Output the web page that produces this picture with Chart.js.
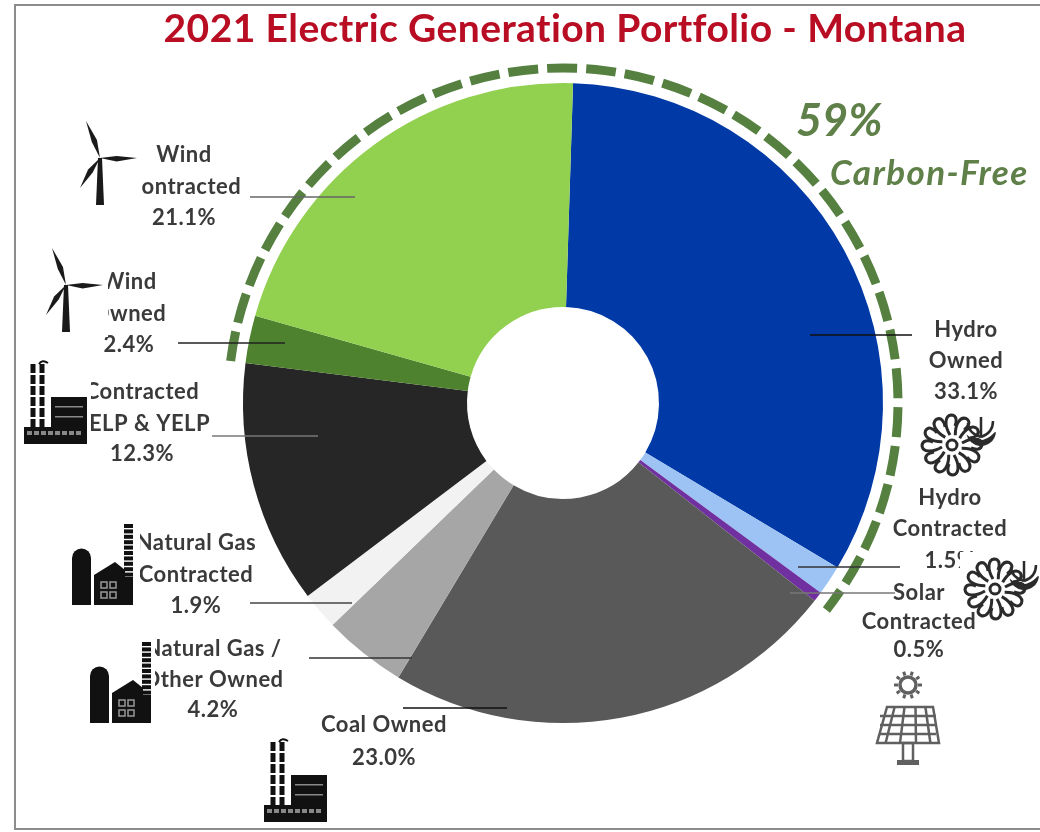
<!DOCTYPE html>
<html>
<head>
<meta charset="utf-8">
<title>2021 Electric Generation Portfolio - Montana</title>
<script src="https://cdn.jsdelivr.net/npm/chart.js@4"></script>
<style>
    html, body { margin: 0; padding: 0; background: #fff; }
    #wrap { position: relative; width: 1040px; height: 832px; }
</style>
</head>
<body>
<div id="wrap"><canvas id="portfolioChart" width="1040" height="832"></canvas></div>
<script>
// Du lieu
const titleText = '2021 Electric Generation Portfolio - Montana';
const categories = ['Hydro Owned', 'Hydro Contracted', 'Solar Contracted', 'Coal Owned', 'Natural Gas / Other Owned',
    'Natural Gas Contracted', 'Contracted CELP & YELP', 'Wind Owned', 'Wind Contracted'];
const shares = [33.1, 1.5, 0.5, 23.0, 4.2, 1.9, 12.3, 2.4, 21.1];
const sliceColors = ['#013aa6', '#9dc3f5', '#7030a0', '#595959', '#a6a6a6', '#f2f2f2', '#262626', '#4e822e', '#92d050'];
const labelLines = [['Hydro', 'Owned'], ['Hydro', 'Contracted'], ['Solar', 'Contracted'], ['Coal Owned'],
    ['Natural Gas /', 'Other Owned'], ['Natural Gas', 'Contracted'], ['Contracted', 'CELP & YELP'], ['Wind', 'Owned'], ['Wind', 'Contracted']];
const carbonFreeLabel = '59%';
const carbonFreeText = 'Carbon-Free';

// Vi tri nhan: x giua, cac dong y, duong dan x1-x2, y, mau
const labelPos = [
    { x: 966, ys: [330, 361, 392], lead: [810, 912, 335], color: '#111' },
    { x: 950, ys: [498, 529, 561], lead: [798, 900, 567], color: '#333' },
    { x: 919, ys: [593, 622, 650], lead: [790, 895, 593], color: '#777' },
    { x: 384, ys: [725, 758], lead: [403, 507, 708], color: '#111' },
    { x: 213, ys: [649, 680, 710], lead: [309, 412, 658], color: '#333' },
    { x: 196, ys: [543, 575, 606], lead: [250, 352, 603], color: '#444' },
    { x: 142, ys: [392, 424, 454], lead: [212, 318, 436], color: '#777' },
    { x: 129, ys: [282, 314, 345], lead: [178, 285, 343], color: '#222' },
    { x: 184, ys: [155, 187, 218], lead: [250, 355, 197], color: '#666' }
];

function drawTurbine(ctx, x, y) {
    ctx.fillStyle = '#1a1a1a';
    [[-14, -37], [37, 0], [-20, 30]].forEach(b => {
        const len = Math.hypot(b[0], b[1]);
        const nx = -b[1] / len;
        const ny = b[0] / len;
        ctx.beginPath();
        ctx.moveTo(x, y);
        ctx.lineTo(x + b[0] * 0.45 + nx * 3.5, y + b[1] * 0.45 + ny * 3.5);
        ctx.lineTo(x + b[0], y + b[1]);
        ctx.lineTo(x + b[0] * 0.45 - nx * 2, y + b[1] * 0.45 - ny * 2);
        ctx.closePath();
        ctx.fill();
    });
    ctx.beginPath();
    ctx.moveTo(x - 2, y);
    ctx.lineTo(x + 2, y);
    ctx.lineTo(x + 4, y + 47);
    ctx.lineTo(x - 4, y + 47);
    ctx.closePath();
    ctx.fill();
}

function drawFactory(ctx, x, y) {
    ctx.fillStyle = '#111';
    [9, 18].forEach(cx => {
        for (let i = 0; i < 6; i++) ctx.fillRect(x + cx - 2.5, y + 4 + i * 11, 5, 9);
    });
    ctx.strokeStyle = '#111';
    ctx.lineWidth = 2;
    ctx.beginPath();
    ctx.moveTo(x + 15, y + 4);
    ctx.quadraticCurveTo(x + 18, y - 1, x + 24, y + 3);
    ctx.stroke();
    ctx.fillRect(x + 27, y + 37, 36, 47);
    ctx.fillRect(x, y + 67, 63, 17);
    ctx.fillStyle = '#888';
    ctx.fillRect(x + 31, y + 46, 28, 1.5);
    ctx.fillRect(x + 31, y + 56, 28, 1.5);
    for (let i = 0; i < 8; i++) ctx.fillRect(x + 3 + i * 7, y + 71, 5, 4);
}

function drawGasPlant(ctx, x, y) {
    ctx.fillStyle = '#111';
    // silo
    ctx.beginPath();
    ctx.moveTo(x, y + 83);
    ctx.lineTo(x, y + 36);
    ctx.arc(x + 9.5, y + 36, 9.5, Math.PI, 0);
    ctx.lineTo(x + 19, y + 83);
    ctx.closePath();
    ctx.fill();
    // nha
    ctx.beginPath();
    ctx.moveTo(x + 22, y + 83);
    ctx.lineTo(x + 22, y + 53);
    ctx.lineTo(x + 43, y + 40);
    ctx.lineTo(x + 53, y + 48);
    ctx.lineTo(x + 53, y + 83);
    ctx.closePath();
    ctx.fill();
    // ong khoi
    for (let i = 0; i < 15; i++) ctx.fillRect(x + 52, y + 2 + i * 5.4, 9, 4);
    ctx.fillRect(x + 50, y + 55, 11, 28);
    ctx.strokeStyle = '#999';
    ctx.lineWidth = 1.5;
    [[29, 60], [38, 60], [29, 70], [38, 70]].forEach(w => ctx.strokeRect(x + w[0], y + w[1], 6, 6));
}

function drawHydro(ctx, x, y) {
    ctx.strokeStyle = '#2b2b2b';
    ctx.lineWidth = 3;
    for (let i = 0; i < 12; i++) {
        const a = i * Math.PI * 2 / 12;
        ctx.save();
        ctx.translate(x, y);
        ctx.rotate(a);
        ctx.beginPath();
        ctx.moveTo(-2, -10);
        ctx.bezierCurveTo(-8, -20, -7, -29, -1, -30);
        ctx.bezierCurveTo(5, -30, 5, -24, 3, -19);
        ctx.stroke();
        ctx.restore();
    }
    ctx.beginPath();
    ctx.arc(x, y, 5, 0, Math.PI * 2);
    ctx.stroke();
    // canh nho ben phai
    ctx.fillStyle = '#2b2b2b';
    ctx.beginPath();
    ctx.arc(x + 29, y - 14, 15, 0.1, 2.9);
    ctx.quadraticCurveTo(x + 29, y + 2, x + 43, y - 13);
    ctx.fill();
    ctx.lineWidth = 2.5;
    [[16, -22], [29, -28], [41, -24]].forEach(p => {
        ctx.beginPath();
        ctx.moveTo(x + p[0], y + p[1]);
        ctx.quadraticCurveTo(x + p[0], y - 12, x + 29, y - 8);
        ctx.stroke();
    });
}

function drawSolar(ctx, x, y) {
    ctx.strokeStyle = '#606060';
    ctx.fillStyle = '#606060';
    // mat troi
    ctx.lineWidth = 3.5;
    ctx.beginPath();
    ctx.arc(x, y, 8, 0, Math.PI * 2);
    ctx.stroke();
    ctx.lineWidth = 3;
    for (let i = 0; i < 10; i++) {
        const a = i * Math.PI / 5;
        ctx.beginPath();
        ctx.moveTo(x + Math.cos(a) * 10, y + Math.sin(a) * 10);
        ctx.lineTo(x + Math.cos(a) * 14, y + Math.sin(a) * 14);
        ctx.stroke();
    }
    // tam pin
    ctx.lineWidth = 2.5;
    ctx.beginPath();
    ctx.moveTo(x - 21, y + 22);
    ctx.lineTo(x + 25, y + 22);
    ctx.lineTo(x + 31, y + 58);
    ctx.lineTo(x - 31, y + 58);
    ctx.closePath();
    ctx.stroke();
    ctx.lineWidth = 2.5;
    [-14, -5, 5, 14].forEach(d => {
        ctx.beginPath();
        ctx.moveTo(x + 2 + d * 1.1, y + 22);
        ctx.lineTo(x + d * 1.6, y + 58);
        ctx.stroke();
    });
    [31, 40, 49].forEach(h => {
        ctx.beginPath();
        ctx.moveTo(x - 28, y + h);
        ctx.lineTo(x + 28, y + h);
        ctx.stroke();
    });
    // chan
    ctx.lineWidth = 2.5;
    ctx.strokeRect(x - 5, y + 58, 10, 18);
    ctx.fillRect(x - 11, y + 75, 22, 5);
}

// Ve ky hieu, moi ky hieu co nen trang che mot phan chu nhu ban goc
const icons = [
    { mask: [78, 115, 63, 95], draw: ctx => drawTurbine(ctx, 100, 158) },
    { mask: [44, 245, 64, 92], draw: ctx => drawTurbine(ctx, 66, 285) },
    { mask: [20, 355, 71, 92], draw: ctx => drawFactory(ctx, 24, 360) },
    { mask: [68, 518, 72, 90], draw: ctx => drawGasPlant(ctx, 72, 522) },
    { mask: [86, 636, 69, 90], draw: ctx => drawGasPlant(ctx, 90, 640) },
    { mask: [262, 733, 68, 92], draw: ctx => drawFactory(ctx, 264, 738) },
    { mask: [920, 410, 80, 70], draw: ctx => drawHydro(ctx, 952, 445) },
    { mask: [960, 552, 78, 52], draw: ctx => drawHydro(ctx, 995, 589) },
    { mask: [875, 670, 66, 98], draw: ctx => drawSolar(ctx, 908, 685) }
];

const annotationPlugin = {
    id: 'annotationPlugin',
    afterDraw(chart) {
        const ctx = chart.ctx;
        const meta = chart.getDatasetMeta(0);
        const solarArc = meta.data[2];
        const windArc = meta.data[7];

        ctx.save();

        // Vong net dut Carbon-Free
        ctx.strokeStyle = '#558040';
        ctx.lineWidth = 9;
        ctx.setLineDash([30, 9]);
        ctx.beginPath();
        ctx.arc(solarArc.x, solarArc.y, solarArc.outerRadius + 15, windArc.startAngle, solarArc.endAngle);
        ctx.stroke();
        ctx.setLineDash([]);

        // Duong dan
        labelPos.forEach(p => {
            ctx.strokeStyle = p.color;
            ctx.lineWidth = 1.5;
            ctx.beginPath();
            ctx.moveTo(p.lead[0], p.lead[2]);
            ctx.lineTo(p.lead[1], p.lead[2]);
            ctx.stroke();
        });

        // Nhan
        ctx.fillStyle = '#3a3a3a';
        ctx.font = 'bold 22px Lato';
        ctx.letterSpacing = '0.5px';
        ctx.textAlign = 'center';
        ctx.textBaseline = 'middle';
        labelLines.forEach((lines, i) => {
            const text = lines.concat(shares[i].toFixed(1) + '%');
            text.forEach((t, j) => ctx.fillText(t, labelPos[i].x, labelPos[i].ys[j]));
        });
        ctx.letterSpacing = '0px';

        // Ky hieu
        icons.forEach(ic => {
            ctx.fillStyle = '#fff';
            ctx.fillRect(ic.mask[0], ic.mask[1], ic.mask[2], ic.mask[3]);
            ctx.save();
            ic.draw(ctx);
            ctx.restore();
        });

        // Tieu de
        ctx.fillStyle = '#b80d22';
        ctx.font = 'bold 39px Lato';
        ctx.letterSpacing = '0.4px';
        ctx.fillText(titleText, 565, 29);

        ctx.fillStyle = '#5f8048';
        ctx.textAlign = 'left';
        ctx.letterSpacing = '0px';
        ctx.font = 'italic bold 45px Lato';
        ctx.fillText(carbonFreeLabel, 796, 121);
        ctx.font = 'italic bold 35px Lato';
        ctx.letterSpacing = '1.4px';
        ctx.fillText(carbonFreeText, 830, 174);
        ctx.letterSpacing = '0px';

        // Khung: trai, tren, duoi
        ctx.strokeStyle = '#8c8c8c';
        ctx.lineWidth = 2;
        ctx.beginPath();
        ctx.moveTo(1040, 5);
        ctx.lineTo(15, 5);
        ctx.lineTo(15, 829);
        ctx.lineTo(1040, 829);
        ctx.stroke();

        ctx.restore();
    }
};

const portfolioCtx = document.getElementById('portfolioChart').getContext('2d');
new Chart(portfolioCtx, {
    type: 'doughnut',
    data: {
        labels: categories,
        datasets: [{
            data: shares,
            backgroundColor: sliceColors,
            borderWidth: 0
        }]
    },
    options: {
        responsive: false,
        animation: false,
        rotation: 1.8,
        cutout: '30%',
        layout: {
            padding: { left: 243, right: 157, top: 83, bottom: 109 }
        },
        plugins: {
            legend: { display: false },
            tooltip: { enabled: false }
        }
    },
    plugins: [annotationPlugin]
});
</script>
</body>
</html>
